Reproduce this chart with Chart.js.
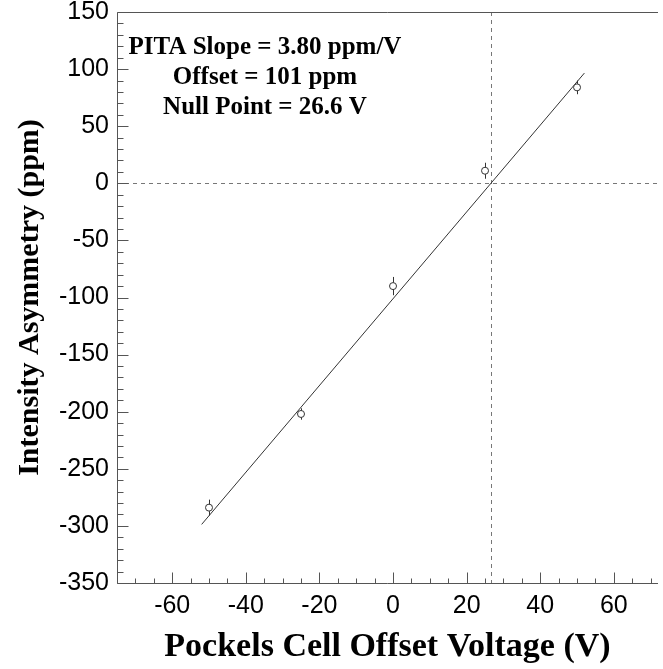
<!DOCTYPE html>
<html>
<head>
<meta charset="utf-8">
<script src="https://cdn.jsdelivr.net/npm/chart.js@4.4.0/dist/chart.umd.min.js"></script>
<style>
  html, body { margin: 0; padding: 0; background: #fff; overflow: hidden; }
  canvas { display: block; }
</style>
</head>
<body>
<canvas id="c" width="663" height="669"></canvas>
<script>
// Measured asymmetry versus Pockels cell offset voltage
const voltages  = [-50, -25, 0, 25, 50];
const asymmetry = [-284, -202, -90, 11, 84];
const asymErr   = [7, 5, 8, 7, 6];

// Linear fit results
const fitSlope  = 3.80;   // ppm/V
const fitOffset = 101;    // ppm
const nullPoint = 26.6;   // V
const fitRange  = [-52, 52];

// Axis ticks
const xTicks = [-60, -40, -20, 0, 20, 40, 60];
const yTicks = [150, 100, 50, 0, -50, -100, -150, -200, -250, -300, -350];
const xMinorStep = 5;
const yMinorStep = 10;

const infoLines = [
  `PITA Slope = ${fitSlope.toFixed(2)} ppm/V`,
  `Offset = ${fitOffset} ppm`,
  `Null Point = ${nullPoint.toFixed(1)} V`
];

const AXIS_COLOR = '#555';
const MARK_COLOR = '#333';

const points = voltages.map((v, i) => ({ x: v, y: asymmetry[i] }));
const fitPoints = fitRange.map(v => ({ x: v, y: fitSlope * (v - nullPoint) }));

const framePlugin = {
  id: 'frame',
  beforeDatasetsDraw(chart) {
    const { ctx, chartArea: a, scales: { x, y } } = chart;
    ctx.save();
    ctx.lineWidth = 1;
    // dashed zero line and null-point line
    ctx.strokeStyle = '#777';
    ctx.setLineDash([4, 4]);
    const y0 = Math.round(y.getPixelForValue(0)) + 0.5;
    ctx.beginPath(); ctx.moveTo(a.left, y0); ctx.lineTo(a.right, y0); ctx.stroke();
    const xn = Math.round(x.getPixelForValue(nullPoint)) + 0.5;
    ctx.beginPath(); ctx.moveTo(xn, a.top); ctx.lineTo(xn, a.bottom); ctx.stroke();
    ctx.setLineDash([]);
    // vertical error bars
    ctx.strokeStyle = MARK_COLOR;
    voltages.forEach((v, i) => {
      const px = Math.round(x.getPixelForValue(v)) + 0.5;
      ctx.beginPath();
      ctx.moveTo(px, y.getPixelForValue(asymmetry[i] + asymErr[i]));
      ctx.lineTo(px, y.getPixelForValue(asymmetry[i] - asymErr[i]));
      ctx.stroke();
    });
    ctx.restore();
  },
  afterDraw(chart) {
    const { ctx, chartArea: a, scales: { x, y } } = chart;
    ctx.save();
    ctx.strokeStyle = AXIS_COLOR;
    ctx.lineWidth = 1;
    const L = Math.round(a.left) + 0.5, B = Math.round(a.bottom) + 0.5, T = Math.round(a.top) + 0.5;
    // frame: left axis, bottom axis, top edge
    ctx.beginPath();
    ctx.moveTo(a.right, T); ctx.lineTo(L, T); ctx.lineTo(L, B); ctx.lineTo(a.right, B);
    ctx.stroke();
    // inward tick marks on x axis
    ctx.beginPath();
    for (let v = x.min; v <= x.max + 1e-9; v += xMinorStep) {
      const px = Math.round(x.getPixelForValue(v)) + 0.5;
      const len = xTicks.includes(Math.round(v)) ? 11 : 5;
      ctx.moveTo(px, B); ctx.lineTo(px, B - len);
    }
    // inward tick marks on y axis
    for (let v = y.min; v <= y.max + 1e-9; v += yMinorStep) {
      const py = Math.round(y.getPixelForValue(v)) + 0.5;
      const len = yTicks.includes(Math.round(v)) ? 11 : 6;
      ctx.moveTo(L, py); ctx.lineTo(L + len, py);
    }
    ctx.stroke();
    // fit summary
    ctx.fillStyle = '#000';
    ctx.font = 'bold 25px "Liberation Serif", "Times New Roman", serif';
    ctx.textAlign = 'center';
    ctx.textBaseline = 'middle';
    infoLines.forEach((t, i) => ctx.fillText(t, 265, 48 + i * 30));
    ctx.restore();
  }
};

new Chart(document.getElementById('c'), {
  type: 'scatter',
  data: {
    datasets: [
      {
        type: 'line',
        data: fitPoints,
        borderColor: MARK_COLOR,
        borderWidth: 1,
        pointRadius: 0,
        fill: false,
        order: 2
      },
      {
        data: points,
        pointStyle: 'circle',
        pointRadius: 3.5,
        pointBackgroundColor: '#fff',
        pointBorderColor: MARK_COLOR,
        pointBorderWidth: 1,
        order: 1
      }
    ]
  },
  plugins: [framePlugin],
  options: {
    responsive: false,
    animation: false,
    events: [],
    layout: { padding: { top: 12, left: 0, right: 0, bottom: 0 } },
    plugins: { legend: { display: false }, tooltip: { enabled: false } },
    scales: {
      x: {
        type: 'linear',
        min: -75,
        max: 72,
        afterFit(s) { s.height = 86; s.paddingLeft = 0; s.paddingRight = 0; },
        afterBuildTicks(s) { s.ticks = xTicks.map(v => ({ value: v })); },
        grid: { display: false, drawTicks: false },
        border: { display: false },
        ticks: {
          autoSkip: false, maxRotation: 0, padding: 8, color: '#000',
          font: { family: '"Liberation Sans", Arial, sans-serif', size: 25 }
        },
        title: {
          display: true,
          text: 'Pockels Cell Offset Voltage (V)',
          color: '#000',
          padding: { bottom: 1 },
          font: { family: '"Liberation Serif", "Times New Roman", serif', size: 34, weight: 'bold' }
        }
      },
      y: {
        type: 'linear',
        min: -350,
        max: 150,
        afterFit(s) { s.width = 117; s.paddingTop = 0; s.paddingBottom = 0; },
        afterBuildTicks(s) { s.ticks = yTicks.map(v => ({ value: v })); },
        grid: { display: false, drawTicks: false },
        border: { display: false },
        ticks: {
          autoSkip: false, padding: 8, color: '#000',
          font: { family: '"Liberation Sans", Arial, sans-serif', size: 25 }
        },
        title: {
          display: true,
          text: 'Intensity Asymmetry (ppm)',
          color: '#000',
          padding: { top: 12 },
          font: { family: '"Liberation Serif", "Times New Roman", serif', size: 30, weight: 'bold' }
        }
      }
    }
  }
});
</script>
</body>
</html>
